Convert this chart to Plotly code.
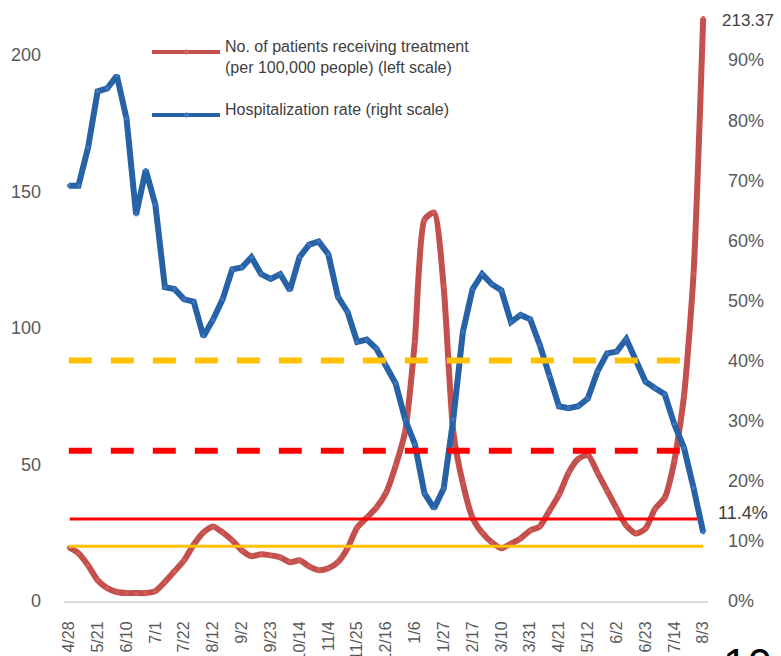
import plotly.graph_objects as go

# ---- data ----
tick_labels = ["4/28", "5/21", "6/10", "7/1", "7/22", "8/12", "9/2", "9/23", "10/14", "11/4",
               "11/25", "12/16", "1/6", "1/27", "2/17", "3/10", "3/31", "4/21", "5/12", "6/2",
               "6/23", "7/14", "8/3"]
weeks = list(range(67))

patients = [19.6, 17.5, 13.1, 7.6, 4.7, 3.3, 2.9, 2.9, 2.9, 3.6,
            7.0, 10.9, 14.9, 20.7, 25.1, 27.3, 25.1, 22.2, 18.5, 16.4,
            17.1, 16.7, 16.0, 14.2, 14.9, 12.7, 11.3, 12.0, 14.2, 19.3,
            26.9, 30.5, 34.2, 39.6, 49.5, 62.2, 95.0, 139.6, 142.2, 115.0,
            62.0, 43.0, 30.5, 25.0, 21.5, 19.3, 21.0, 22.9, 25.8, 27.3,
            33.0, 38.9, 47.0, 52.0, 53.5, 47.0, 40.4, 33.8, 27.6, 24.7,
            26.5, 33.8, 37.8, 51.3, 75.0, 120.0, 213.37]

hosp_rate = [69.1, 69.1, 75.4, 84.8, 85.3, 87.4, 80.3, 64.3, 71.7, 66.0,
             52.2, 51.9, 50.2, 49.8, 44.0, 46.8, 50.2, 55.2, 55.5, 57.2,
             54.4, 53.6, 54.4, 51.7, 57.2, 59.3, 59.8, 57.7, 50.6, 48.1,
             43.1, 43.5, 42.0, 39.3, 36.2, 30.2, 26.1, 17.9, 15.4, 18.7,
             30.2, 44.8, 51.9, 54.4, 52.7, 51.7, 46.4, 47.6, 46.9, 42.6,
             37.4, 32.4, 32.1, 32.4, 33.7, 38.2, 41.2, 41.5, 43.6, 39.8,
             36.5, 35.4, 34.4, 29.4, 25.5, 18.8, 11.4]
hosp_rate = [v / 100 for v in hosp_rate]

left_thresholds = [30, 20]          # solid lines (patients, left scale)
right_thresholds = [0.40, 0.25]     # dashed lines (hospitalization rate, right scale)

RED = "#C4504D"
BLUE = "#2761A6"
GRAY = "#595959"
FONT = "Liberation Sans, Arial"
W, H = 781, 656
L, R, T, B = 64, 73, 0, 55
PW, PH = W - L - R, H - T - B


def px(x):
    return (x - L) / PW


def py(y):
    return (H - B - y) / PH


fig = go.Figure()
fig.add_trace(go.Scatter(
    x=weeks, y=patients, mode="lines+markers", name="patients",
    line=dict(color=RED, width=6, shape="spline", smoothing=0.6),
    marker=dict(size=4, color="#CF5E5A"), showlegend=False, yaxis="y"))
fig.add_trace(go.Scatter(
    x=weeks, y=hosp_rate, mode="lines+markers", name="hosp",
    line=dict(color=BLUE, width=6),
    marker=dict(size=4, color="#3B76BE"), showlegend=False, yaxis="y2"))

shapes = []
# thresholds
shapes.append(dict(type="line", xref="x", yref="y2", x0=0, x1=64.3,
                   y0=right_thresholds[0], y1=right_thresholds[0],
                   line=dict(color="#FFC000", width=6, dash="23px,19px"), layer="above"))
shapes.append(dict(type="line", xref="x", yref="y2", x0=0, x1=64.3,
                   y0=right_thresholds[1], y1=right_thresholds[1],
                   line=dict(color="#FF0000", width=6, dash="23px,19px"), layer="above"))
shapes.append(dict(type="line", xref="x", yref="y", x0=0.1, x1=65.4,
                   y0=left_thresholds[0], y1=left_thresholds[0],
                   line=dict(color="#FF0000", width=3), layer="above"))
shapes.append(dict(type="line", xref="x", yref="y", x0=0, x1=66,
                   y0=left_thresholds[1], y1=left_thresholds[1],
                   line=dict(color="#FFC000", width=3), layer="above"))
# manual legend samples
for yy, col, mcol in [(52, RED, "#CF5E5A"), (115, BLUE, "#3B76BE")]:
    shapes.append(dict(type="line", xref="paper", yref="paper",
                       x0=px(152), x1=px(220), y0=py(yy), y1=py(yy),
                       line=dict(color=col, width=4)))
    shapes.append(dict(type="circle", xref="paper", yref="paper",
                       x0=px(184), x1=px(189), y0=py(yy - 2.5), y1=py(yy + 2.5),
                       fillcolor=mcol, line=dict(width=0)))

annotations = [
    dict(text="No. of patients receiving treatment<br>(per 100,000 people) (left scale)",
         xref="paper", yref="paper", x=px(223), y=py(57), xanchor="left", yanchor="middle",
         align="left", showarrow=False,
         font=dict(family=FONT, size=16, color="#404040")),
    dict(text="Hospitalization rate (right scale)",
         xref="paper", yref="paper", x=px(223), y=py(110), xanchor="left", yanchor="middle",
         align="left", showarrow=False,
         font=dict(family=FONT, size=16, color="#404040")),
    dict(text=f"{patients[-1]:.2f}", xref="paper", yref="paper", x=px(748), y=py(21),
         xanchor="center", yanchor="middle", showarrow=False,
         font=dict(family=FONT, size=17, color="#404040")),
    dict(text=f"{hosp_rate[-1]*100:.1f}%", xref="paper", yref="paper", x=px(743), y=py(513),
         xanchor="center", yanchor="middle", showarrow=False,
         font=dict(family=FONT, size=18, color="#404040")),
    dict(text="10", xref="paper", yref="paper", x=px(747), y=py(638),
         xanchor="center", yanchor="top", showarrow=False,
         font=dict(family=FONT, size=44, color="#000000")),
]

fig.update_layout(
    width=W, height=H, template="none",
    margin=dict(l=L, r=R, t=T, b=B, pad=0),
    paper_bgcolor="white", plot_bgcolor="white",
    showlegend=False,
    xaxis=dict(range=[-0.5, 66.5], tickvals=weeks[::3], ticktext=tick_labels,
               tickangle=-90, showgrid=False, zeroline=False,
               showline=True, linecolor="#D9D9D9", linewidth=2,
               ticks="", ticklabelstandoff=12, automargin=False,
               tickfont=dict(family=FONT, size=16, color=GRAY)),
    yaxis=dict(range=[0, 220], tickvals=[0, 50, 100, 150, 200], showgrid=False,
               zeroline=False, showline=False, ticks="", ticklabelstandoff=22,
               automargin=False,
               tickfont=dict(family=FONT, size=18, color=GRAY)),
    yaxis2=dict(range=[0, 1], overlaying="y", side="right",
                tickvals=[i / 10 for i in range(11)], tickformat=".0%",
                showgrid=False, zeroline=False, showline=False, ticks="",
                ticklabelstandoff=19, automargin=False,
                tickfont=dict(family=FONT, size=18, color=GRAY)),
    shapes=shapes,
    annotations=annotations,
)

fig.write_html("out.html",
               config={"displayModeBar": False},
               post_script="document.body.style.margin='0';document.body.style.overflow='hidden';")
